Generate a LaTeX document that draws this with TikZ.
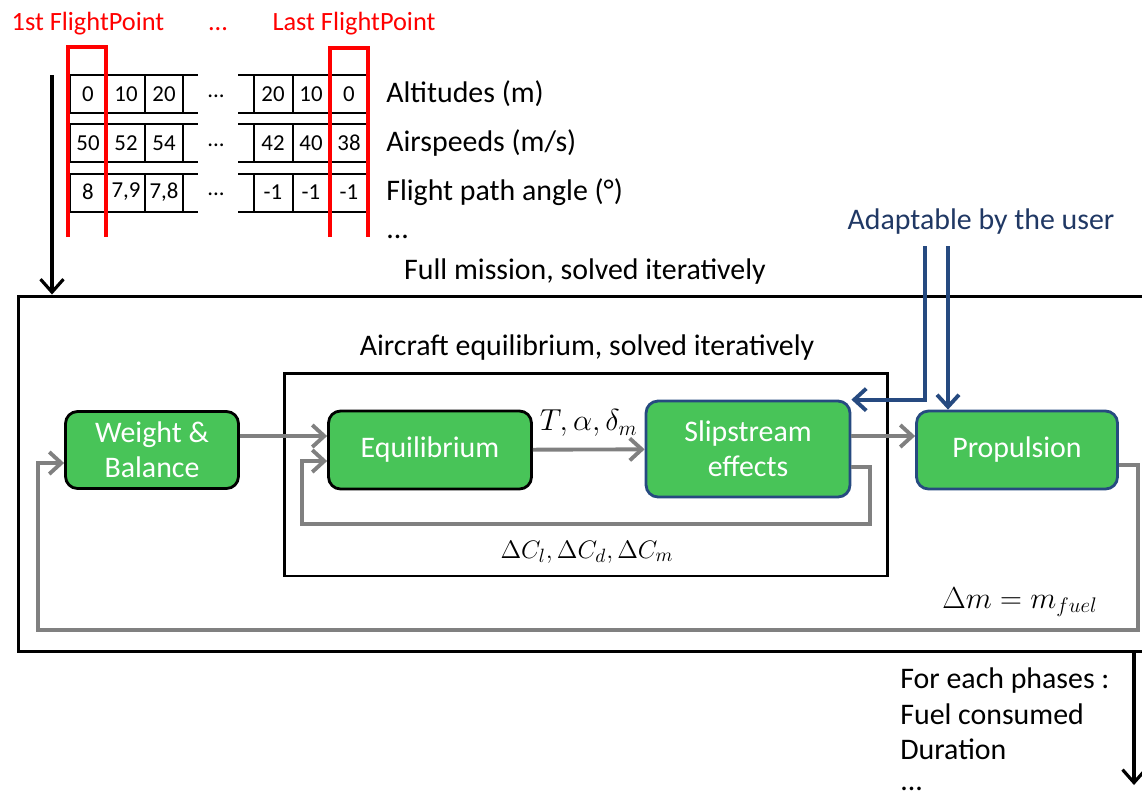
\documentclass[tikz,border=0pt]{standalone}
\usepackage{fontspec}
\setmainfont{Carlito}
\usetikzlibrary{arrows.meta,positioning,calc}
\definecolor{blockgreen}{RGB}{72,196,88}
\definecolor{userblue}{RGB}{38,74,128}
\definecolor{usertext}{RGB}{32,56,100}
\definecolor{loopgray}{RGB}{128,128,128}
\definecolor{pointred}{RGB}{255,0,0}
\newcommand{\labelsize}{\fontsize{17}{20}\selectfont}
\newcommand{\cellsize}{\fontsize{13}{15}\selectfont}

\begin{document}
\begin{tikzpicture}[x=0.02cm, y=-0.02cm,
  block/.style={draw=black, line width=1.6pt, fill=blockgreen, rounded corners=0.24cm,
    text=white, align=center, font=\labelsize, inner sep=0pt},
  userblock/.style={block, draw=userblue},
  frame/.style={draw=black, line width=1.7pt, inner sep=0pt},
  grid/.style={draw=black, line width=1.6pt},
  flow/.style={draw=loopgray, line width=2.2pt, -{Straight Barb[length=2.4mm,width=4.4mm]}},
  userflow/.style={draw=userblue, line width=2.2pt, -{Straight Barb[length=2.4mm,width=4.4mm]}},
  mainflow/.style={draw=black, line width=1.8pt, -{Straight Barb[length=2.6mm,width=4.6mm]}},
  txt/.style={font=\labelsize, inner sep=0pt},
  redtxt/.style={pointred, font=\fontsize{15}{18}\selectfont, inner sep=0pt, anchor=base}]
\useasboundingbox (0,0) rectangle (1142,796);

% TOP: flight points table
\node[redtxt] (first) at (88,30) {1st FlightPoint};
\node[redtxt] (middots) at (218,30) {...};
\node[redtxt] (last) at (354,30) {Last FlightPoint};
\foreach \top in {75,124,174} {
  \draw[grid] (70,\top) -- (198,\top) (70,\top+38) -- (198,\top+38);
  \draw[grid] (238,\top) -- (368,\top) (238,\top+38) -- (368,\top+38);
  \foreach \x in {70,107,145,183,254,293,330,368} \draw[grid] (\x,\top) -- (\x,\top+38);
}
\foreach \y/\a/\b/\c/\d/\e/\f [count=\r] in {94/0/10/20/20/10/0, 143/50/52/54/42/40/38, 192/8/{7,9}/{7,8}/-1/-1/-1} {
  \node[font=\cellsize, inner sep=0pt] (c\r-1) at (88,\y) {\a};
  \node[font=\cellsize, inner sep=0pt] (c\r-2) at (126,\y) {\b};
  \node[font=\cellsize, inner sep=0pt] (c\r-3) at (164,\y) {\c};
  \node[font=\cellsize, inner sep=0pt] (c\r-dots) at (216,\y+2) {...};
  \node[font=\cellsize, inner sep=0pt] (c\r-4) at (273,\y) {\d};
  \node[font=\cellsize, inner sep=0pt] (c\r-5) at (311,\y) {\e};
  \node[font=\cellsize, inner sep=0pt] (c\r-6) at (349,\y) {\f};
}
% red frames round first and last point
\draw[pointred, line width=2.3pt] (68,237) |- (106,47) -- (106,237);
\draw[pointred, line width=2.3pt] (330,237) |- (368,48) -- (368,237);
\node[txt, anchor=west] (alt) at (386,94) {Altitudes (m)};
\node[txt, anchor=west] (spd) at (386,143) {Airspeeds (m/s)};
\node[txt, anchor=west] (fpa) at (386,192) {Flight path angle (°)};
\node[txt, anchor=base west] (more) at (386,238) {...};

% MIDDLE: mission loop and equilibrium loop
\node[frame, minimum width=22.64cm, minimum height=7.12cm] (mission) at (584,474) {};
\node[frame, minimum width=12.08cm, minimum height=4.06cm] (equi) at (586,474.5) {};
\node[txt] (missionlbl) at (585,272) {Full mission, solved iteratively};
\node[txt] (equilbl) at (587,348) {Aircraft equilibrium, solved iteratively};
\node[txt, usertext] (user) at (981,222) {Adaptable by the user};

\node[block, minimum width=3.46cm, minimum height=1.54cm] (wb) at (152,450) {Weight \&\\Balance};
\node[block, minimum width=4.06cm, minimum height=1.56cm] (eq) at (430,450) {Equilibrium};
\node[userblock, minimum width=4.08cm, minimum height=1.92cm] (slip) at (748,449) {Slipstream\\effects};
\node[userblock, minimum width=4.02cm, minimum height=1.56cm] (prop) at (1017,450) {Propulsion};

\draw[flow] (wb.east |- 0,436) -- (eq.west |- 0,436);
\draw[flow] (eq) -- (slip) node[midway, above=3pt, font=\labelsize] (tad) {$T, \alpha, \delta_m$};
\draw[flow] (slip.east |- 0,436) -- (prop.west |- 0,436);
\draw[flow] (slip.east |- 0,467) -| (870,524) -| (302,461) -- (eq.west |- 0,461);
\node[txt, font=\fontsize{15}{18}\selectfont] (dc) at (587,552) {$\Delta C_l, \Delta C_d, \Delta C_m$};
\draw[flow] (prop.east |- 0,465) -| (1138,630) -| (38,463) -- (wb.west |- 0,463);
\node[txt] (dm) at (1020,602) {$\Delta m = m_{fuel}$};

% user inputs
\coordinate (userA) at (925,246);
\coordinate (userB) at (948,246);
\draw[userflow] (userA) |- (slip.north east);
\draw[userflow] (userB) -- (userB |- prop.north);

% in and out of the mission
\coordinate (feed) at (52,75);
\draw[mainflow] (feed) -- (feed |- mission.north);
\coordinate (out) at (1134,785);
\draw[mainflow] (out |- mission.south) -- (out);
\node[txt, anchor=base west] (res1) at (900,688) {For each phases :};
\node[txt, anchor=base west] (res2) at (900,724) {Fuel consumed};
\node[txt, anchor=base west] (res3) at (900,759) {Duration};
\node[txt, anchor=base west] (res4) at (900,790) {...};
\end{tikzpicture}
\end{document}
